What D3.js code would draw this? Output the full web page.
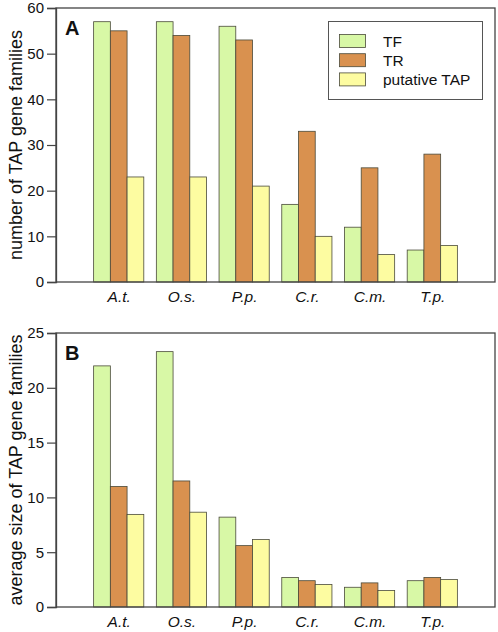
<!DOCTYPE html>
<html><head><meta charset="utf-8">
<script src="https://cdn.jsdelivr.net/npm/d3@7"></script>
<style>body{margin:0;background:#fff}svg{display:block}</style>
</head><body>
<script>
const categories = ["A.t.", "O.s.", "P.p.", "C.r.", "C.m.", "T.p."];
const seriesNames = ["TF", "TR", "putative TAP"];
const countTF  = [57, 57, 56, 17, 12, 7];
const countTR  = [55, 54, 53, 33, 25, 28];
const countTAP = [23, 23, 21, 10, 6, 8];
const sizeTF  = [22.0, 23.3, 8.2, 2.7, 1.8, 2.4];
const sizeTR  = [11.0, 11.5, 5.6, 2.4, 2.2, 2.7];
const sizeTAP = [8.45, 8.65, 6.15, 2.05, 1.5, 2.5];
const ticksA = [0, 10, 20, 30, 40, 50, 60];
const ticksB = [0, 5, 10, 15, 20, 25];
const colors = ["#d8f8a6", "#d9914f", "#fdfca1"];

const W = 498, H = 632;
const FONT = "Arial, 'Liberation Sans', sans-serif";
const svg = d3.select("body").append("svg").attr("width", W).attr("height", H)
  .style("font-family", FONT);

const left = 56, right = 495;
const x = d3.scaleLinear().domain([0, 7]).range([left, right]);
const groupW = (x(1) - x(0)) * 0.8;
const sub = d3.scaleBand().domain(seriesNames).range([-groupW / 2, groupW / 2]);

function panel(top, bottom, maxV, ticks, series, title, letter, legend) {
  const y = d3.scaleLinear().domain([0, maxV]).range([bottom, top]);
  const g = svg.append("g");
  series.forEach((vals, si) => {
    g.selectAll(null).data(vals).enter().append("rect")
      .attr("x", (d, i) => x(i + 1) + sub(seriesNames[si]))
      .attr("width", sub.bandwidth())
      .attr("y", d => y(d))
      .attr("height", d => y(0) - y(d))
      .attr("fill", colors[si])
      .attr("stroke", "#4a4a3a").attr("stroke-width", 0.8);
  });
  g.append("rect").attr("x", left).attr("y", top).attr("width", right - left).attr("height", bottom - top)
    .attr("fill", "none").attr("stroke", "#444").attr("stroke-width", 1.3);
  const ya = g.append("g").attr("transform", `translate(${left},0)`)
    .call(d3.axisLeft(y).tickValues(ticks).tickSize(9).tickPadding(3).tickFormat(d3.format("d")));
  ya.select(".domain").attr("stroke", "#444").attr("stroke-width", 1.3);
  ya.selectAll(".tick line").attr("stroke", "#444").attr("stroke-width", 1.2);
  ya.selectAll(".tick text").attr("font-size", 15).attr("fill", "#111").style("font-family", FONT);
  const xa = g.append("g").attr("transform", `translate(0,${bottom})`)
    .call(d3.axisBottom(x).tickValues(d3.range(1, 7)).tickSize(0).tickPadding(9).tickFormat(d => categories[d - 1]));
  xa.select(".domain").remove();
  xa.selectAll(".tick text").attr("font-size", 15.5).attr("font-style", "italic").attr("fill", "#111")
    .style("font-family", FONT);
  g.append("text").attr("transform", `translate(22,${(top + bottom) / 2}) rotate(-90)`)
    .attr("text-anchor", "middle").attr("font-size", 18).attr("fill", "#111").text(title);
  g.append("text").attr("x", 65).attr("y", top + 27).attr("font-size", 20).attr("font-weight", "bold")
    .attr("fill", "#111").text(letter);
  if (legend) {
    const lg = g.append("g");
    lg.append("rect").attr("x", 328.5).attr("y", 21.5).attr("width", 154).attr("height", 78)
      .attr("fill", "#fff").attr("stroke", "#555").attr("stroke-width", 1);
    seriesNames.forEach((n, i) => {
      const yy = 34.5 + i * 19.2;
      lg.append("rect").attr("x", 339.5).attr("y", yy).attr("width", 26).attr("height", 13)
        .attr("fill", colors[i]).attr("stroke", "#4a4a3a").attr("stroke-width", 0.8);
      lg.append("text").attr("x", 383).attr("y", yy + 12).attr("font-size", 15.5).attr("fill", "#111").text(n);
    });
  }
}

panel(8, 282, 60, ticksA, [countTF, countTR, countTAP], "number of TAP gene families", "A", true);
panel(333, 607, 25, ticksB, [sizeTF, sizeTR, sizeTAP], "average size of TAP gene families", "B", false);
</script>
</body></html>
